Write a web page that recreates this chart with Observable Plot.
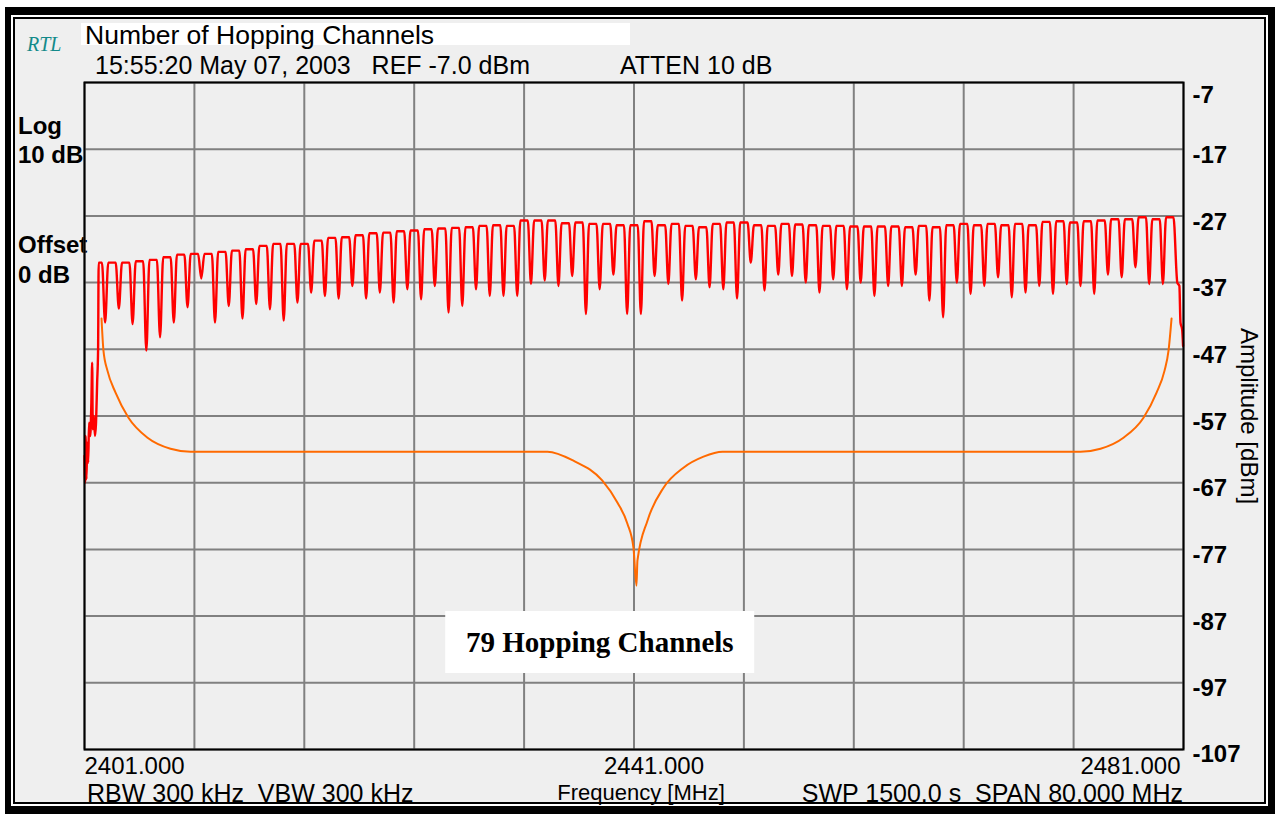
<!DOCTYPE html>
<html>
<head>
<meta charset="utf-8">
<script src="https://cdn.jsdelivr.net/npm/d3@7"></script>
<script src="https://cdn.jsdelivr.net/npm/@observablehq/plot@0.6"></script>
<style>
  body { margin: 0; background: #fff; }
  #screen { position: relative; width: 1275px; height: 814px; overflow: hidden;
            font-family: "Liberation Sans", Arial, Helvetica, sans-serif; color: #000; }
  .abs { position: absolute; white-space: pre; }
  .lbl { font-size: 25px; line-height: 25px; }
  .side { font-size: 24px; line-height: 24px; font-weight: bold; left: 18px; }
  #plot { position: absolute; left: 0; top: 0; }
  #note { position: absolute; background: #fff; font-family: "Liberation Serif", "Times New Roman", serif;
          font-weight: bold; font-size: 29px; line-height: 62px; padding: 0 21px; white-space: pre;
          transform: translate(-50%, -50%); }
</style>
</head>
<body>
<div id="screen">
  <!-- instrument bezel: thick black band, white gap, thin black rule, grey screen -->
  <div class="abs" style="left:5px;top:7px;width:1270px;height:807px;background:#000"></div>
  <div class="abs" style="left:11px;top:15px;width:1257px;height:791px;background:#fff"></div>
  <div class="abs" style="left:13px;top:17px;width:1253px;height:787px;background:#000"></div>
  <div class="abs" style="left:15px;top:19px;width:1249px;height:783px;background:#efefef"></div>

  <div class="abs" style="left:27px;top:34px;font-family:'Liberation Serif',serif;font-style:italic;font-size:20px;line-height:20px;color:#138a8a">RTL</div>
  <div class="abs" style="left:81px;top:23px;width:549px;height:22px;background:#fff"></div>
  <div class="abs" style="left:85px;top:21.5px;font-size:26.5px;line-height:26.5px">Number of Hopping Channels</div>
  <div class="abs lbl" style="left:95px;top:52.5px">15:55:20 May 07, 2003   REF -7.0 dBm</div>
  <div class="abs lbl" style="left:620px;top:52.5px">ATTEN 10 dB</div>

  <div class="abs side" style="top:114px">Log</div>
  <div class="abs side" style="top:143px">10 dB</div>
  <div class="abs side" style="top:233px">Offset</div>
  <div class="abs side" style="top:263px">0 dB</div>

  <div class="abs lbl" style="left:87px;top:781px">RBW 300 kHz  VBW 300 kHz</div>
  <div class="abs" style="left:641px;top:782px;font-size:22px;line-height:22px;transform:translateX(-50%)">Frequency [MHz]</div>
  <div class="abs lbl" style="right:92px;top:781px">SWP 1500.0 s  SPAN 80.000 MHz</div>

  <div id="plot"></div>
</div>
<script>
// Sweep span (MHz) and reference-level scale (dBm)
const spanMHz = [2401, 2481];
const levelRange = [-107, -7];
const freqGrid = [2401, 2409, 2417, 2425, 2433, 2441, 2449, 2457, 2465, 2473, 2481];
const levelTicks = [-7, -17, -27, -37, -47, -57, -67, -77, -87, -97, -107];
const freqLabels = [2401, 2441, 2481];

// Bluetooth hopping channels: 79 channels, 1 MHz apart, starting at 2402 MHz
const firstChannel = 2402;
// max-hold level at the top of each channel (dBm)
const peakTop = [
  -34.0, -34.0, -34.0, -33.8, -33.6, -33.2, -32.8, -32.7, -32.7, -32.4,
  -32.2, -32.0, -31.5, -31.2, -31.2, -31.2, -30.7, -30.3, -30.2, -29.9,
  -29.6, -29.5, -29.3, -29.2, -29.0, -28.9, -28.8, -28.7, -28.5, -28.4,
  -28.5, -27.7, -27.7, -27.7, -28.1, -28.0, -28.2, -28.2, -28.4, -28.4,
  -27.8, -28.4, -28.2, -28.5, -28.7, -28.2, -28.0, -28.0, -28.4, -28.5,
  -28.2, -28.3, -28.4, -28.5, -28.5, -28.6, -28.6, -28.6, -28.6, -28.7,
  -28.5, -28.7, -28.4, -28.2, -28.4, -28.2, -28.4, -28.2, -28.4, -27.9,
  -27.8, -28.0, -27.8, -27.7, -27.5, -27.5, -27.2, -27.5, -27.2
];
// level of the notch between neighbouring channels (dBm), 2402.5 ... 2479.5 MHz
const dipFloor = [
  -43.0, -40.9, -43.2, -47.2, -45.2, -43.0, -40.7, -36.4, -43.0, -40.5,
  -42.4, -40.2, -41.0, -42.7, -40.0, -38.5, -39.0, -39.4, -37.5, -39.4,
  -38.5, -40.0, -38.0, -39.5, -37.5, -41.5, -40.5, -38.0, -39.0, -39.0,
  -39.0, -37.2, -36.7, -37.5, -36.0, -41.7, -38.0, -35.8, -41.7, -41.7,
  -36.0, -37.2, -39.7, -36.5, -37.7, -38.0, -39.4, -34.0, -38.2, -35.8,
  -36.0, -37.0, -38.5, -36.5, -38.0, -37.0, -39.0, -37.5, -37.5, -35.8,
  -39.7, -42.2, -37.0, -38.7, -37.5, -36.2, -39.2, -38.5, -37.5, -38.7,
  -37.2, -37.5, -38.7, -35.8, -36.2, -34.7, -37.2, -37.2
];
// noise below the band edge, up to the rising edge of the first channel
const leadInFreq = [2401.00, 2401.04, 2401.08, 2401.14, 2401.20, 2401.27, 2401.33, 2401.42, 2401.50,
                    2401.56, 2401.60, 2401.68, 2401.76, 2401.84, 2401.92, 2401.99, 2402.03];
const leadInLevel = [-63, -67, -60, -66.5, -61, -64, -58, -60, -55,
                     -49, -59, -57, -60, -58, -52, -47, -34];
// roll-off after the last channel
const tailFreq = [2480.55, 2480.70, 2480.78, 2480.90, 2480.97];
const tailLevel = [-37, -37.5, -43, -44, -46.5];

// brace marking the span of the 79 channels
const braceFreq = [2402.24, 2402.38, 2402.67, 2403.26, 2404.20, 2405.59, 2407.26, 2408.72, 2434.70,
                   2436.59, 2438.70, 2439.80, 2440.52, 2440.96, 2441.18, 2441.25, 2441.98, 2443.15,
                   2444.60, 2446.06, 2447.44, 2473.50, 2474.96, 2476.63, 2478.09, 2479.04, 2479.62,
                   2479.91, 2480.13];
const braceLevel = [-42.4, -47.2, -50.2, -53.5, -57.25, -60.25, -61.9, -62.35, -62.35,
                    -63.7, -66.7, -70.0, -73.15, -76.75, -82.45, -78.7, -72.7, -67.75,
                    -64.75, -63.1, -62.35, -62.35, -61.9, -60.25, -57.25, -53.5, -50.2,
                    -47.2, -42.4];

const noteText = "79 Hopping Channels";
const noteFreq = 2438.55;
const noteLevel = -91.0;

// assemble the trace: each channel is a hump between two notches
const trace = leadInFreq.map((f, i) => ({f, dBm: leadInLevel[i]}));
peakTop.forEach((top, i) => {
  const c = firstChannel + i;
  if (i > 0) {
    trace.push({f: c - 0.5, dBm: dipFloor[i - 1]});
    trace.push({f: c - 0.27, dBm: top});
  }
  trace.push({f: c + 0.27, dBm: top});
});
tailFreq.forEach((f, i) => trace.push({f, dBm: tailLevel[i]}));

const brace = braceFreq.map((f, i) => ({f, dBm: braceLevel[i]}));

const grid = {stroke: "#808080", strokeOpacity: 1, strokeWidth: 2};
const yAxisText = {anchor: "right", tickSize: 0, tickPadding: 9, fontSize: 24, fontWeight: "bold",
                   textAnchor: "start", tickFormat: d => String(d), label: null};
const xAxisText = {anchor: "bottom", tickSize: 0, tickPadding: 7, fontSize: 24,
                   tickFormat: d => d.toFixed(3), label: null};

const chart = Plot.plot({
  width: 1275,
  height: 814,
  marginTop: 82,
  marginLeft: 84,
  marginRight: 92,
  marginBottom: 65,
  x: {domain: spanMHz},
  y: {domain: levelRange},
  style: {background: "transparent", fontFamily: "'Liberation Sans', Arial, sans-serif", color: "#000", overflow: "visible"},
  marks: [
    Plot.gridX(freqGrid, grid),
    Plot.gridY(levelTicks, grid),
    Plot.line(brace, {x: "f", y: "dBm", stroke: "#ff6a00", strokeWidth: 2, curve: "monotone-x"}),
    Plot.line(trace, {x: "f", y: "dBm", stroke: "#ff0000", strokeWidth: 2.4, curve: "monotone-x"}),
    Plot.frame({stroke: "#000", strokeWidth: 2}),
    Plot.axisY(levelTicks.slice(1, -1), {...yAxisText, dy: 6}),
    Plot.axisY(levelTicks.slice(0, 1), {...yAxisText, dy: 13}),
    Plot.axisY(levelTicks.slice(-1), {...yAxisText, dy: 5}),
    Plot.axisX(freqLabels.slice(0, 1), {...xAxisText, textAnchor: "start"}),
    Plot.axisX(freqLabels.slice(1, 2), {...xAxisText, textAnchor: "middle", dx: 20}),
    Plot.axisX(freqLabels.slice(2), {...xAxisText, textAnchor: "end", dx: -3}),
    Plot.text(["Amplitude [dBm]"], {frameAnchor: "right", text: d => d, rotate: 90, dx: 65,
                                    textAnchor: "middle", fontSize: 24})
  ]
});
document.getElementById("plot").appendChild(chart);

// boxed annotation placed through the chart's own scales
const note = document.createElement("div");
note.id = "note";
note.textContent = noteText;
note.style.left = chart.scale("x").apply(noteFreq) + "px";
note.style.top = chart.scale("y").apply(noteLevel) + "px";
document.getElementById("screen").appendChild(note);
</script>
</body>
</html>
